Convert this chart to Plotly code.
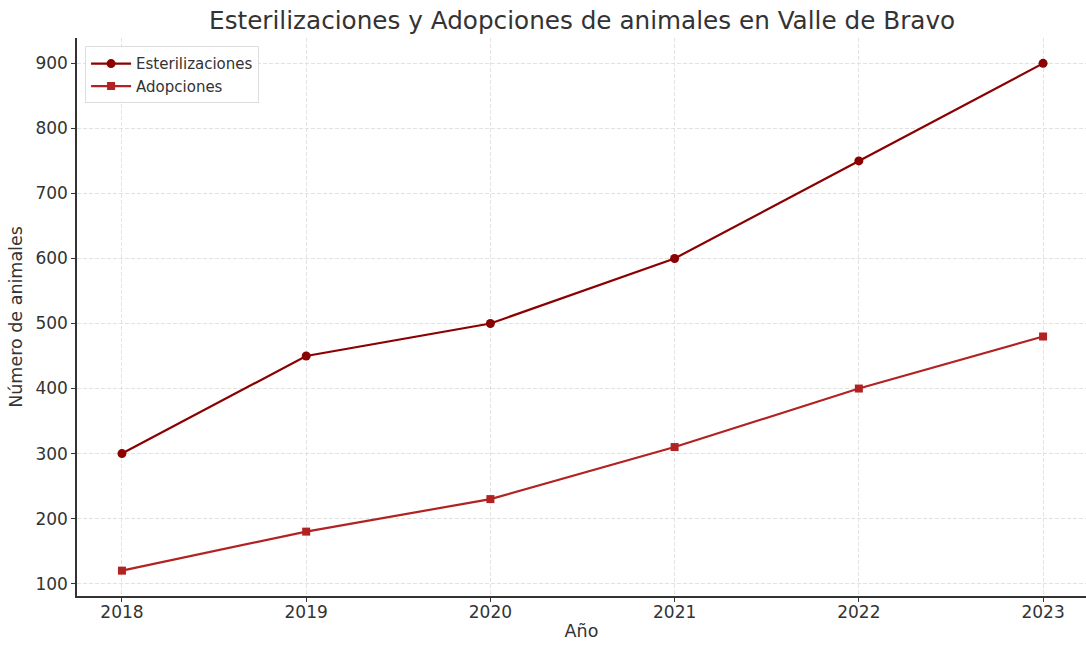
import plotly.graph_objects as go

years = [2018, 2019, 2020, 2021, 2022, 2023]
esterilizaciones = [300, 450, 500, 600, 750, 900]
adopciones = [120, 180, 230, 310, 400, 480]
y_ticks = [100, 200, 300, 400, 500, 600, 700, 800, 900]

font = "DejaVu Sans"
fig = go.Figure()
fig.add_trace(go.Scatter(x=years, y=esterilizaciones, name="Esterilizaciones",
                         mode="lines+markers",
                         line=dict(color="#8B0000", width=2.2),
                         marker=dict(symbol="circle", size=9, color="#8B0000")))
fig.add_trace(go.Scatter(x=years, y=adopciones, name="Adopciones",
                         mode="lines+markers",
                         line=dict(color="#B22222", width=2.2),
                         marker=dict(symbol="square", size=8, color="#B22222")))

fig.update_layout(
    width=1086, height=650,
    margin=dict(l=77, r=0, t=38, b=54, autoexpand=False),
    paper_bgcolor="white", plot_bgcolor="white",
    font=dict(family=font, size=17, color="#333333"),
    title=dict(text="Esterilizaciones y Adopciones de animales en Valle de Bravo",
               x=0.536, xanchor="center", y=0.968, yanchor="middle",
               font=dict(family=font, size=24.7, color="#333333")),
    legend=dict(x=0.008, y=0.985, xanchor="left", yanchor="top",
                bgcolor="rgba(255,255,255,0.8)", bordercolor="#dddddd", borderwidth=1,
                font=dict(family=font, size=15, color="#333333"),
                tracegroupgap=0, itemwidth=40),
    showlegend=True,
)
fig.update_xaxes(
    range=[2017.756, 2023.233], tickmode="array", tickvals=years,
    ticktext=[str(y) for y in years],
    showgrid=True, gridcolor="#e2e2e2", griddash="4px,2px", gridwidth=1,
    showline=True, linecolor="#333333", linewidth=1.5, mirror=False,
    ticks="outside", ticklen=4, tickcolor="#333333",
    ticklabelstandoff=-4,
    zeroline=False,
    title=dict(text="Año", font=dict(family=font, size=17.5, color="#333333"), standoff=4),
    tickfont=dict(family=font, size=17, color="#333333"),
    automargin=False,
)
fig.update_yaxes(
    range=[81, 939], tickmode="array", tickvals=y_ticks,
    showgrid=True, gridcolor="#e2e2e2", griddash="4px,2px", gridwidth=1,
    showline=True, linecolor="#333333", linewidth=1.5, mirror=False,
    ticks="outside", ticklen=4, tickcolor="#333333",
    zeroline=False,
    title=dict(text="Número de animales", font=dict(family=font, size=17.5, color="#333333"), standoff=8),
    tickfont=dict(family=font, size=17, color="#333333"),
    automargin=False,
)

fig.write_html("out.html", config={"displayModeBar": False},
               post_script="document.body.style.margin='0px';")
